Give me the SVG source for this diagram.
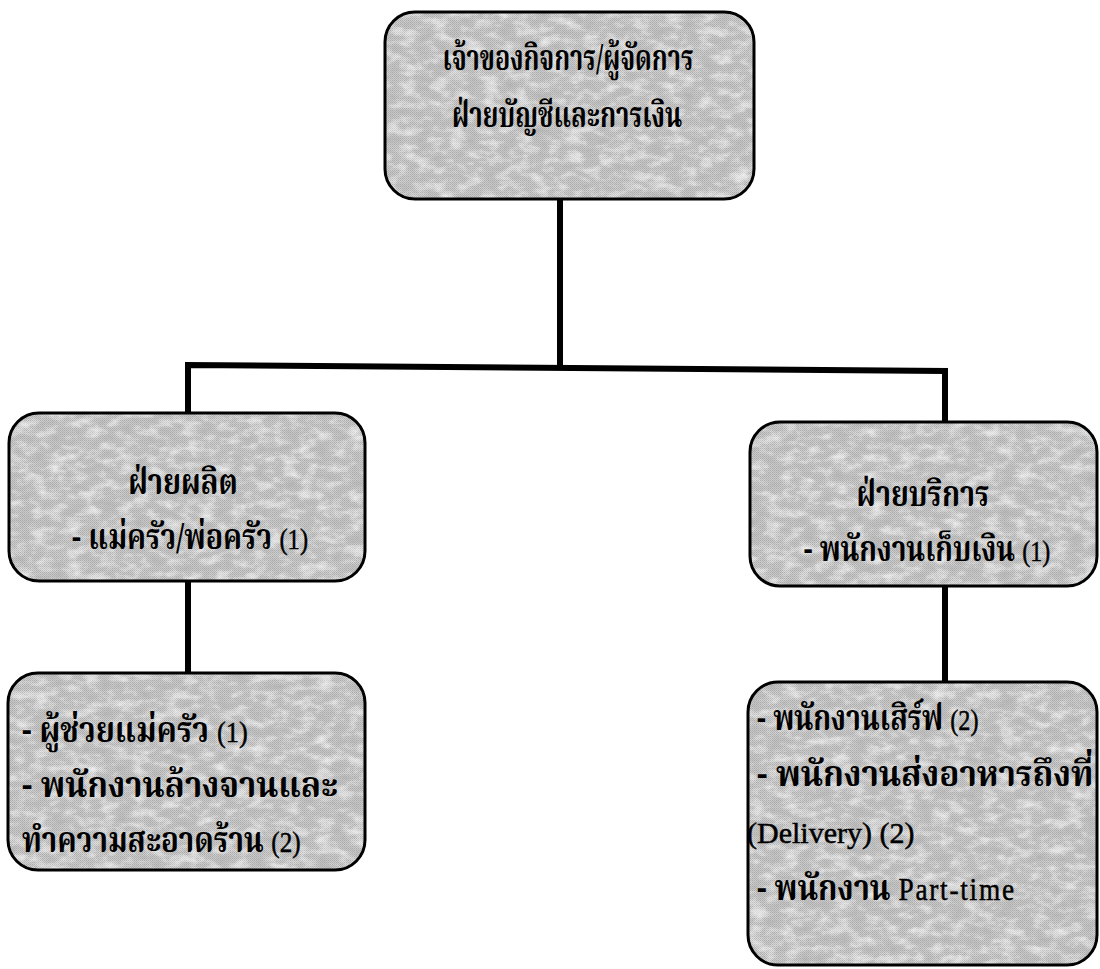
<svg xmlns="http://www.w3.org/2000/svg" width="1100" height="969" viewBox="0 0 1100 969">
  <style>
    .box-fill { fill: url(#dither); filter: url(#granite); }
    .box-edge { fill: none; stroke: #000; stroke-width: 3; }
    .link { fill: none; stroke: #000; stroke-width: 6; stroke-linecap: butt; stroke-linejoin: miter; }
    .label { font-family: "Noto Serif Thai", "Noto Sans Thai", "Liberation Serif", serif; font-weight: bold; font-size: 35px; fill: #000; }
    .latin { font-family: "Liberation Serif", serif; font-weight: normal; font-size: 30px; stroke: #000; stroke-width: 0.5; }
    .mid { text-anchor: middle; }
    .spread { letter-spacing: 2px; font-size: 31px; }
  </style>
  <defs>
    <!-- fine checker dither for the grey shading -->
    <pattern id="dither" width="2" height="2" patternUnits="userSpaceOnUse">
      <rect width="2" height="2" fill="#d4d4d4"/>
      <rect width="1" height="1" fill="#a8a8a8"/>
      <rect x="1" y="1" width="1" height="1" fill="#b8b8b8"/>
    </pattern>
    <!-- granite speckle over the shading -->
    <filter id="granite" x="0" y="0" width="100%" height="100%">
      <feTurbulence type="fractalNoise" baseFrequency="0.06 0.11" numOctaves="4" seed="11" result="noise"/>
      <feColorMatrix in="noise" type="matrix"
        values="0 0 0 0 0.45  0 0 0 0 0.45  0 0 0 0 0.45  0 0 0 2.0 -0.9" result="dark"/>
      <feColorMatrix in="noise" type="matrix"
        values="0 0 0 0 0.86  0 0 0 0 0.86  0 0 0 0 0.86  0 0 0 -2.0 1.05" result="light"/>
      <feMerge result="spots">
        <feMergeNode in="SourceGraphic"/>
        <feMergeNode in="dark"/>
        <feMergeNode in="light"/>
      </feMerge>
      <feComposite in="spots" in2="SourceGraphic" operator="in"/>
    </filter>
  </defs>

  <rect width="1100" height="969" fill="#fff"/>

  <!-- connectors -->
  <g id="connectors">
    <line class="link" x1="560" y1="199" x2="560" y2="368"/>
    <polyline class="link" points="188,413 188,365 945,371 945,422"/>
    <line class="link" x1="188" y1="581" x2="188" y2="673"/>
    <line class="link" x1="945" y1="586" x2="945" y2="682"/>
  </g>

  <!-- owner / manager -->
  <g id="owner">
    <rect class="box-fill" x="385" y="12" width="369" height="187" rx="30"/>
    <rect class="box-edge" x="385" y="12" width="369" height="187" rx="30"/>
    <text class="label mid" transform="translate(568,70) scale(0.72,1)">เจ้าของกิจการ/ผู้จัดการ</text>
    <text class="label mid" transform="translate(567,127) scale(0.73,1)">ฝ่ายบัญชีและการเงิน</text>
  </g>

  <!-- production -->
  <g id="production">
    <rect class="box-fill" x="9" y="413" width="356" height="168" rx="30"/>
    <rect class="box-edge" x="9" y="413" width="356" height="168" rx="30"/>
    <text class="label mid" transform="translate(183,494) scale(0.83,1)">ฝ่ายผลิต</text>
    <text class="label mid" transform="translate(190,549) scale(0.82,1)">- แม่ครัว/พ่อครัว <tspan class="latin">(1)</tspan></text>
  </g>

  <!-- service -->
  <g id="service">
    <rect class="box-fill" x="750" y="422" width="347" height="164" rx="30"/>
    <rect class="box-edge" x="750" y="422" width="347" height="164" rx="30"/>
    <text class="label mid" transform="translate(923,506) scale(0.82,1)">ฝ่ายบริการ</text>
    <text class="label mid" transform="translate(927,561) scale(0.8,1)">- พนักงานเก็บเงิน <tspan class="latin">(1)</tspan></text>
  </g>

  <!-- kitchen staff -->
  <g id="kitchen-staff">
    <rect class="box-fill" x="8" y="673" width="357" height="197" rx="30"/>
    <rect class="box-edge" x="8" y="673" width="357" height="197" rx="30"/>
    <text class="label" transform="translate(22,742) scale(0.88,1)">- ผู้ช่วยแม่ครัว <tspan class="latin">(1)</tspan></text>
    <text class="label" transform="translate(22,797) scale(0.94,1)">- พนักงานล้างจานและ</text>
    <text class="label" transform="translate(22,852) scale(0.84,1)">ทำความสะอาดร้าน <tspan class="latin">(2)</tspan></text>
  </g>

  <!-- service staff -->
  <g id="service-staff">
    <rect class="box-fill" x="748" y="682" width="349" height="283" rx="30"/>
    <rect class="box-edge" x="748" y="682" width="349" height="283" rx="30"/>
    <text class="label" transform="translate(757,730) scale(0.81,1)">- พนักงานเสิร์ฟ <tspan class="latin">(2)</tspan></text>
    <text class="label" transform="translate(757,786) scale(0.95,1)">- พนักงานส่งอาหารถึงที่</text>
    <text class="label latin" x="747" y="843">(Delivery) (2)</text>
    <text class="label" transform="translate(757,900) scale(0.88,1)">- พนักงาน <tspan class="latin spread">Part-time</tspan></text>
  </g>
</svg>
